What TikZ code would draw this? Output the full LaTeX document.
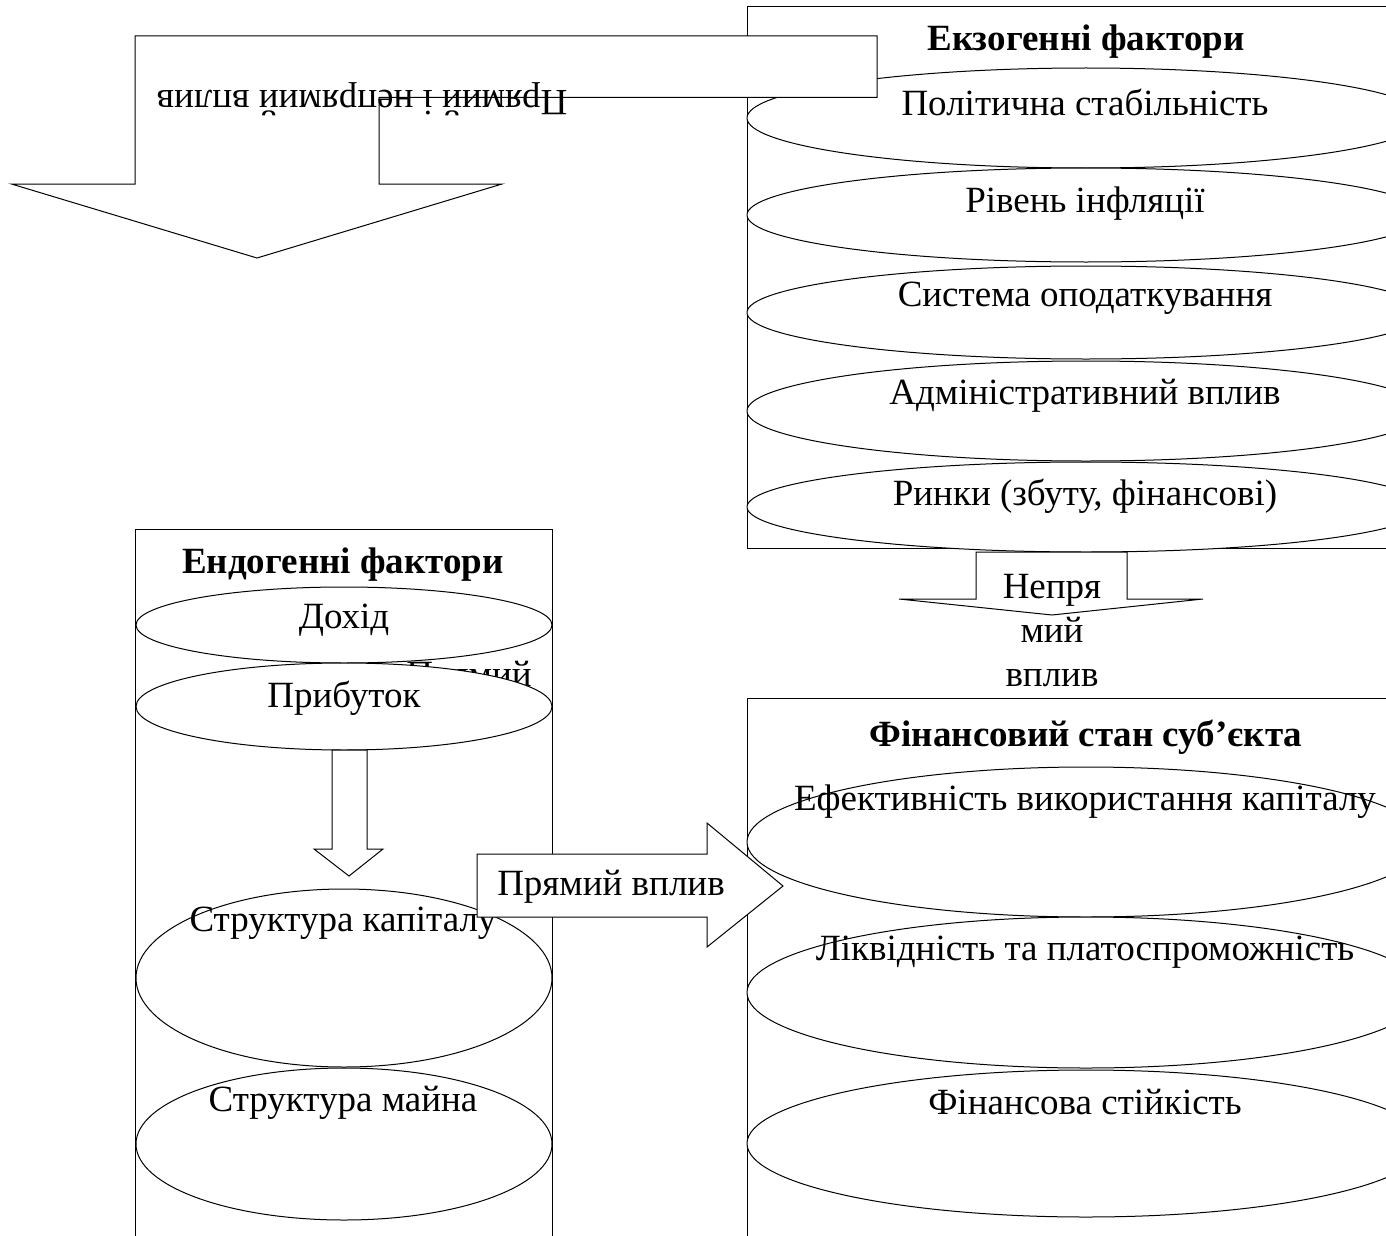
\documentclass[tikz,border=0pt]{standalone}
\usepackage{fontspec}
\setmainfont{Liberation Serif}
\usetikzlibrary{shapes.geometric}

\begin{document}
\begin{tikzpicture}[x=0.5pt, y=-0.5pt,
    every node/.style={font=\fontsize{18.5}{22}\selectfont},
    box/.style={draw, line width=0.5pt, fill=white},
    oval/.style={ellipse, draw, fill=white, line width=0.5pt, inner sep=0pt, outer sep=0pt},
    blk/.style={draw, line width=0.5pt, fill=white, line join=miter},
    lbl/.style={inner sep=0pt},
    ttl/.style={inner sep=0pt, font=\fontsize{18.5}{22}\selectfont\bfseries}]
  \useasboundingbox (0,0) rectangle (1386,1236);
  \clip (0,0) rectangle (1386,1236);

  % endogenous block
  \draw[box] (135.7,529) rectangle (552,1250);
  \node[ttl] (endoT) at (343,565) {Ендогенні фактори};
  \node[lbl] (hidden) at (469,678) {Прямий};
  \node[oval, minimum width=208pt, minimum height=38pt] (dokhid) at (344,625) {};
  \node[lbl] (dokhidT) at (344,620) {Дохід};
  \node[oval, minimum width=208pt, minimum height=43.5pt] (prybutok) at (344,706.5) {};
  \node[lbl] (prybutokT) at (344,698) {Прибуток};
  \draw[blk] (332,750) -- (367,750) -- (367,849) -- (383,849) -- (349,876)
    -- (314,849) -- (332,849) -- cycle;
  \node[oval, minimum width=208pt, minimum height=89pt] (kapital) at (344,978) {};
  \node[lbl] (kapitalT) at (343,923) {Структура капіталу};
  \node[oval, minimum width=208pt, minimum height=76pt] (maino) at (344,1144) {};
  \node[lbl] (mainoT) at (343,1103) {Структура майна};

  % exogenous block
  \draw[box] (747,7) rectangle (1400,548);
  \node[ttl] (exoT) at (1086,42) {Екзогенні фактори};
  \node[oval, minimum width=339pt, minimum height=50pt] (polit) at (1086,118) {};
  \node[lbl] (politT) at (1085,102) {Політична стабільність};
  \node[oval, minimum width=339pt, minimum height=47pt] (infl) at (1086,215) {};
  \node[lbl] (inflT) at (1085,204) {Рівень інфляції};
  \node[oval, minimum width=339pt, minimum height=46.5pt] (podatky) at (1086,312.5) {};
  \node[lbl] (podatkyT) at (1085,298) {Система оподаткування};
  \node[oval, minimum width=339pt, minimum height=50pt] (admin) at (1086,411) {};
  \node[lbl] (adminT) at (1085,396) {Адміністративний вплив};
  \node[oval, minimum width=339pt, minimum height=45pt] (rynky) at (1086,507) {};
  \node[lbl] (rynkyT) at (1085,496) {Ринки (збуту, фінансові)};

  % bent arrow at the top
  \draw[blk] (135,36) -- (877,36) -- (877,97.5) -- (379,97.5) -- (379,184)
    -- (502,184) -- (257,258) -- (11.5,184) -- (135,184) -- cycle;
  \node[lbl, rotate=180] (topT) at (362,99) {Прямий і непрямий вплив};

  % indirect influence
  \draw[blk] (976,552) -- (1127,552) -- (1127,599) -- (1203,599) -- (1052,615)
    -- (899,599) -- (976,599) -- cycle;
  \node[lbl, align=center, font=\fontsize{18.5}{22}\selectfont] (nepryamT) at (1052,631)
    {Непря\\мий\\вплив};

  % financial state block
  \draw[box] (747,698) rectangle (1400,1250);
  \node[ttl] (finT) at (1086,737) {Фінансовий стан суб’єкта};
  \node[oval, minimum width=339pt, minimum height=75pt] (efekt) at (1086,842) {};
  \node[lbl] (efektT) at (1085,802) {Ефективність використання капіталу};
  \node[oval, minimum width=339pt, minimum height=75.5pt] (likv) at (1086,992.5) {};
  \node[lbl] (likvT) at (1085,952) {Ліквідність та платоспроможність};
  \node[oval, minimum width=339pt, minimum height=73.5pt] (stiik) at (1086,1143.5) {};
  \node[lbl] (stiikT) at (1085,1102) {Фінансова стійкість};

  % direct influence
  \draw[blk] (477,854) -- (707,854) -- (707,823) -- (783,886) -- (707,947)
    -- (707,917) -- (477,917) -- cycle;
  \node[lbl] (pryamT) at (611,887) {Прямий вплив};
\end{tikzpicture}
\end{document}
